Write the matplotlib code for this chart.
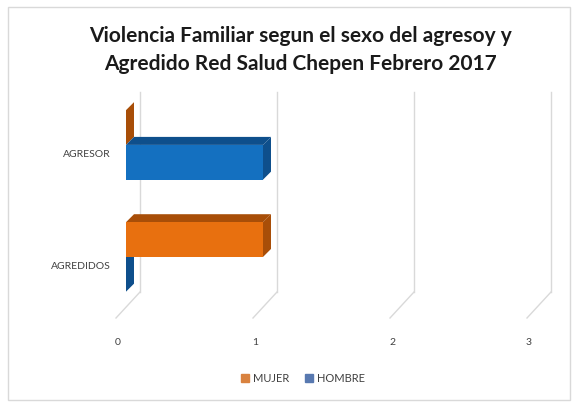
import matplotlib.pyplot as plt
from matplotlib.patches import Polygon, Rectangle
from matplotlib.transforms import ScaledTranslation, blended_transform_factory

# data
categories = ["AGREDIDOS", "AGRESOR"]
series_names = ["MUJER", "HOMBRE"]
mujer = [1, 0]
hombre = [0, 1]
x_ticks = [0, 1, 2, 3]

front_colors = {"MUJER": "#e8700f", "HOMBRE": "#1470c0"}
side_colors = {"MUJER": "#a84e08", "HOMBRE": "#0e4f8c"}
legend_colors = {"MUJER": "#d9823f", "HOMBRE": "#5879b0"}

W, H = 582, 404
fig = plt.figure(figsize=(W / 100, H / 100), dpi=100)
fig.patches.append(Rectangle((8 / W, 4 / H), 562 / W, 393 / H, transform=fig.transFigure,
                             facecolor="none", edgecolor="#d9d9d9", lw=1))

ax_l, ax_r, ax_t, ax_b = 126, 537, 90, 318
ax = fig.add_axes([ax_l / W, 1 - ax_b / H, (ax_r - ax_l) / W, (ax_b - ax_t) / H])
xmin, xmax = 0, 3
ymin, ymax = -0.545, 1.49
ax.set_xlim(xmin, xmax)
ax.set_ylim(ymin, ymax)

px_x = (ax_r - ax_l) / (xmax - xmin)
px_y = (ax_b - ax_t) / (ymax - ymin)
depth_x = 8 / px_x
depth_y = 8 / px_y

# back wall gridlines with floor diagonal
blend = blended_transform_factory(ax.transData, ax.transAxes)
floor_back = 26 / (ax_b - ax_t)
inv = fig.transFigure.inverted()
for v in x_ticks:
    back = blend + ScaledTranslation(14 / 100, 0, fig.dpi_scale_trans)
    ax.plot([v, v], [0.99, floor_back], transform=back, color="#d9d9d9", lw=1, clip_on=False)
    front = blend + ScaledTranslation(-10 / 100, 0, fig.dpi_scale_trans)
    q1 = inv.transform(back.transform((v, floor_back)))
    q2 = inv.transform(front.transform((v, 0)))
    fig.add_artist(plt.Line2D([q1[0], q2[0]], [q1[1], q2[1]], transform=fig.transFigure,
                              color="#d9d9d9", lw=1))

bar_h = 0.31
offsets = {"MUJER": bar_h / 2, "HOMBRE": -bar_h / 2}
values = {"MUJER": mujer, "HOMBRE": hombre}
for name in series_names:
    for i, v in enumerate(values[name]):
        yc = i + offsets[name]
        y0, y1 = yc - bar_h / 2, yc + bar_h / 2
        ax.barh(yc, v, height=bar_h, color=front_colors[name], zorder=3)
        top = [(0, y1), (v, y1), (v + depth_x, y1 + depth_y), (depth_x, y1 + depth_y)]
        side = [(v, y0), (v, y1), (v + depth_x, y1 + depth_y), (v + depth_x, y0 + depth_y)]
        ax.add_patch(Polygon(top, closed=True, facecolor=side_colors[name], edgecolor="none", zorder=2))
        ax.add_patch(Polygon(side, closed=True, facecolor=side_colors[name], edgecolor="none", zorder=2))

for s in ax.spines.values():
    s.set_visible(False)
ax.tick_params(length=0, labelsize=7.5, colors="#404040", pad=4)
ax.set_xticks(x_ticks)
ax.set_xticklabels([str(t) for t in x_ticks], family="Lato")
ax.set_yticks(range(len(categories)))
ax.set_yticklabels(categories, family="Lato")
for lab in ax.get_xticklabels():
    lab.set_transform(lab.get_transform() + ScaledTranslation(-8 / 100, -14 / 100, fig.dpi_scale_trans))
for lab in ax.get_yticklabels():
    lab.set_transform(lab.get_transform() + ScaledTranslation(-10 / 100, -9 / 100, fig.dpi_scale_trans))

fig.text(300 / W, 1 - 50 / H, "Violencia Familiar segun el sexo del agresoy y\nAgredido Red Salud Chepen Febrero 2017",
         ha="center", va="center", fontsize=15, fontweight="bold", family="Lato",
         color="#1a1a1a", linespacing=1.5)

handles = [Rectangle((0, 0), 1, 1, color=legend_colors[n]) for n in series_names]
fig.legend(handles, series_names, loc="center", bbox_to_anchor=(303 / W, 1 - 378 / H), ncol=2,
           frameon=False, prop={"family": "Lato", "size": 8}, handlelength=0.7, handleheight=0.7,
           handletextpad=0.3, columnspacing=1.5, labelcolor="#404040")

fig.savefig("out.png", dpi=100)
